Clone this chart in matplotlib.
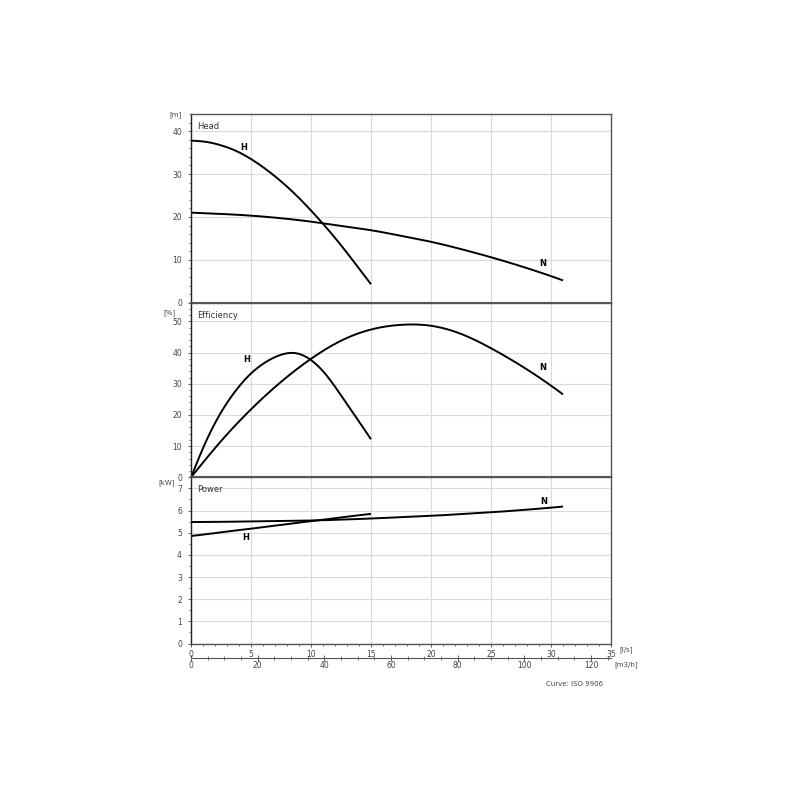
import matplotlib
matplotlib.use("Agg")
import matplotlib.pyplot as plt
import numpy as np
from matplotlib.ticker import MultipleLocator

# ---- data (flow in l/s) ----
q_h = [0, 1.25, 2.5, 3.75, 5, 6.25, 7.5, 8.75, 10, 11.25, 12.5, 13.75, 15]
head_h = [37.8, 37.5, 36.7, 35.4, 33.5, 31.1, 28.3, 25.1, 21.5, 17.6, 13.4, 8.9, 4.3]
eff_h = [0, 11.5, 20.8, 27.9, 33.3, 37.0, 39.3, 39.8, 37.6, 32.9, 26.3, 19.3, 12.2]
pow_h = [4.85, 4.93, 5.02, 5.10, 5.18, 5.27, 5.35, 5.44, 5.52, 5.60, 5.69, 5.77, 5.85]

q_n = [0, 2.5, 5, 7.5, 10, 12.5, 15, 17.5, 20, 22.5, 25, 27.5, 30, 31]
head_n = [21.0, 20.7, 20.3, 19.7, 18.9, 17.9, 16.9, 15.6, 14.2, 12.5, 10.6, 8.5, 6.2, 5.2]
eff_n = [0, 11.6, 21.8, 30.6, 38.0, 43.8, 47.4, 48.9, 48.6, 46.0, 41.4, 35.8, 29.4, 26.6]
pow_n = [5.48, 5.49, 5.51, 5.53, 5.55, 5.59, 5.64, 5.70, 5.76, 5.84, 5.92, 6.02, 6.13, 6.18]

flow_ticks_ls = [0, 5, 10, 15, 20, 25, 30, 35]
flow_ticks_m3h = [0, 20, 40, 60, 80, 100, 120]


def smooth(x, y, n=30):
    """Natural cubic spline through the read points (used for drawing only)."""
    x = np.asarray(x, float)
    y = np.asarray(y, float)
    m = len(x)
    h = np.diff(x)
    A = np.zeros((m, m))
    rhs = np.zeros(m)
    A[0, 0] = A[-1, -1] = 1.0
    for i in range(1, m - 1):
        A[i, i - 1] = h[i - 1]
        A[i, i] = 2 * (h[i - 1] + h[i])
        A[i, i + 1] = h[i]
        rhs[i] = 3 * ((y[i + 1] - y[i]) / h[i] - (y[i] - y[i - 1]) / h[i - 1])
    c = np.linalg.solve(A, rhs)
    b = (y[1:] - y[:-1]) / h - h * (2 * c[:-1] + c[1:]) / 3
    d = (c[1:] - c[:-1]) / (3 * h)
    xs, ys = [], []
    for i in range(m - 1):
        t = np.linspace(0, h[i], n, endpoint=False)
        xs.append(x[i] + t)
        ys.append(y[i] + b[i] * t + c[i] * t ** 2 + d[i] * t ** 3)
    xs.append([x[-1]])
    ys.append([y[-1]])
    return np.concatenate(xs), np.concatenate(ys)


W, H = 800, 800
fig = plt.figure(figsize=(8, 8), dpi=100)


def rect(l, t, r, b):
    return [l / W, 1 - b / H, (r - l) / W, (b - t) / H]


L, R = 191, 611
panels = [
    (114, 302.7, 44, 10, 2, "[m]", (175, 115), "Head", q_h, head_h, q_n, head_n, (244, 148), (543, 264)),
    (302.7, 477.3, 56, 10, 2, "[%]", (169, 313), "Efficiency", q_h, eff_h, q_n, eff_n, (247, 360), (543, 367)),
    (477.3, 643.5, 7.5, 1, 0.5, "[kW]", (167, 483), "Power", q_h, pow_h, q_n, pow_n, (246, 537), (544, 502)),
]

fs = 5.5
tc = "#444444"
grid_c = "#dadada"
axes = []
for (t, b, ymax, maj, mnr, unit, upos, title, xh, yh, xn, yn, lh, ln) in panels:
    ax = fig.add_axes(rect(L, t, R, b))
    ax.set_xlim(0, 35)
    ax.set_ylim(0, ymax)
    ax.yaxis.set_major_locator(MultipleLocator(maj))
    ax.yaxis.set_minor_locator(MultipleLocator(mnr))
    ax.set_xticks(flow_ticks_ls)
    ax.xaxis.set_minor_locator(MultipleLocator(1))
    ax.grid(True, which="major", color=grid_c, lw=0.8)
    ax.set_axisbelow(True)
    for s in ax.spines.values():
        s.set_color("#555555")
        s.set_linewidth(1.0)
    ax.spines["left"].set_color("#222222")
    ax.tick_params(axis="y", which="major", labelsize=fs, length=2.5, width=0.6, pad=4, colors=tc)
    ax.tick_params(axis="y", which="minor", length=1.5, width=0.5, colors=tc)
    sx, sy = smooth(xh, yh)
    ax.plot(sx, sy, color="black", lw=1.4, solid_capstyle="butt")
    sx, sy = smooth(xn, yn)
    ax.plot(sx, sy, color="black", lw=1.4, solid_capstyle="butt")
    ax.text(0.015, 0.955, title, transform=ax.transAxes, fontsize=6, va="top", ha="left", color="#333333")
    fig.text(upos[0] / W, 1 - upos[1] / H, unit, fontsize=5, ha="center", va="center", color=tc)
    fig.text(lh[0] / W, 1 - lh[1] / H, "H", fontsize=6, weight="bold", ha="center", va="center")
    fig.text(ln[0] / W, 1 - ln[1] / H, "N", fontsize=6, weight="bold", ha="center", va="center")
    axes.append(ax)

for ax in axes[:2]:
    ax.tick_params(axis="x", which="both", bottom=False, labelbottom=False)
    ax.spines["bottom"].set_linewidth(1.5)

axp = axes[2]
axp.tick_params(axis="x", which="major", labelsize=fs, length=2.5, width=0.6, pad=2, colors=tc)
axp.tick_params(axis="x", which="minor", length=1.5, width=0.5, colors=tc)

# second flow axis in m3/h
ax2 = fig.add_axes(rect(L, 650, R, 658))
ax2.set_xlim(0, 35 * 3.6)
ax2.set_yticks([])
for s in ["top", "left", "right"]:
    ax2.spines[s].set_visible(False)
ax2.patch.set_visible(False)
ax2.spines["bottom"].set_color("#555555")
ax2.spines["bottom"].set_linewidth(0.8)
ax2.set_xticks(flow_ticks_m3h)
ax2.xaxis.set_minor_locator(MultipleLocator(5))
ax2.tick_params(axis="x", which="major", direction="inout", length=4, width=0.6, labelsize=fs, pad=0.5, colors=tc)
ax2.tick_params(axis="x", which="minor", direction="inout", length=2.5, width=0.5, colors=tc)

fig.text(619 / W, 1 - 650 / H, "[l/s]", fontsize=5, ha="left", va="center", color=tc)
fig.text(614 / W, 1 - 665 / H, "[m3/h]", fontsize=5, ha="left", va="center", color=tc)
fig.text(575 / W, 1 - 684 / H, "Curve: ISO 9906", fontsize=5, ha="center", va="center", color=tc)

fig.savefig("out.png", dpi=100, facecolor="white")
